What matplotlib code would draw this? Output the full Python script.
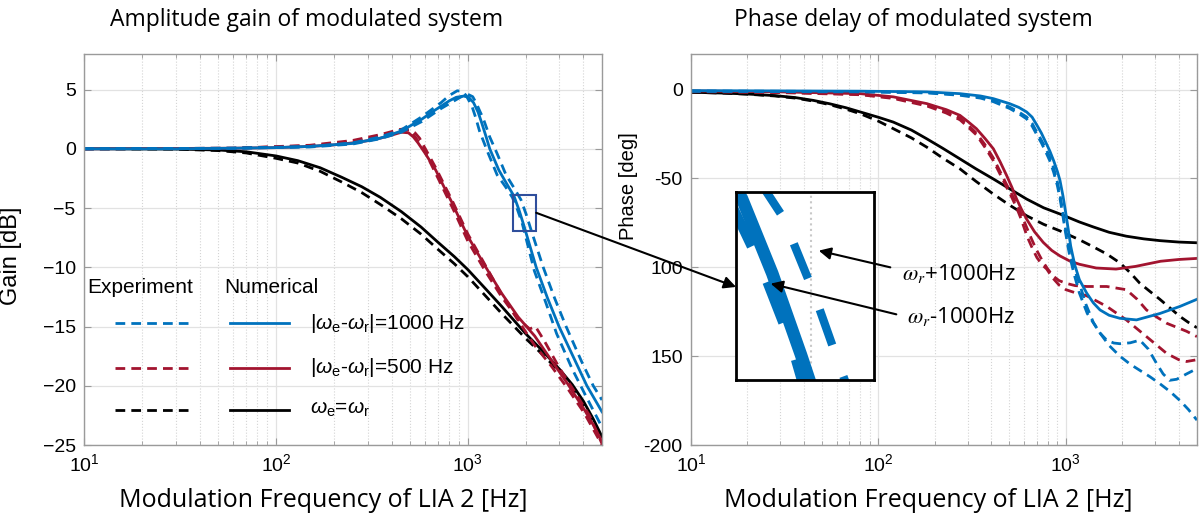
import numpy as np
import matplotlib
matplotlib.use("Agg")
import matplotlib.pyplot as plt
from matplotlib.patches import Rectangle, ConnectionPatch, FancyArrowPatch
from matplotlib.ticker import FixedLocator, NullLocator

plt.rcParams['font.family'] = ['Liberation Sans', 'DejaVu Sans']
plt.rcParams['mathtext.fontset'] = 'custom'
plt.rcParams['mathtext.rm'] = 'Liberation Sans'
plt.rcParams['mathtext.it'] = 'Liberation Sans:italic'
NARROW = ['Open Sans', 'DejaVu Sans']

BLUE = '#0072BD'
RED = '#A2142F'
BLACK = '#000000'

# ---- gain data (Hz, dB) ----
gain_f_num1000 = [10, 30, 60, 100, 150, 250, 350, 450, 575, 650, 725, 800, 870, 950, 1010, 1070, 1130, 1180, 1240, 1300,
                  1450, 1600, 1740, 1850, 1960, 2270, 2600, 2985, 3600, 4170, 5000]
gain_num1000 = [0, 0, 0.05, 0.1, 0.2, 0.45, 0.9, 1.5, 2.5, 3.1, 3.6, 4.05, 4.35, 4.45, 4.35, 3.9, 3.1, 2.2, 1.1, 0.0,
                -1.8, -3.0, -4.0, -5.2, -6.5, -10.0, -12.6, -15.0, -17.8, -20.0, -22.2]
gain_f_exp1000a = [10, 60, 150, 250, 350, 450, 575, 725, 800, 880, 930, 980, 1050, 1100, 1150, 1270, 1420, 1570,
                   1705, 1810, 1920, 2220, 2550, 2900, 3500, 4100, 5000]
gain_exp1000a = [0, 0.05, 0.2, 0.5, 1.0, 1.6, 2.7, 3.9, 4.5, 4.9, 4.85, 4.5, 3.6, 2.6, 1.5, -0.3, -2.2, -3.2,
                 -4.1, -5.1, -6.3, -10.3, -13.0, -15.6, -18.6, -20.8, -23.5]
gain_f_exp1000b = [10, 60, 150, 250, 350, 450, 575, 725, 880, 950, 1000, 1060, 1110, 1160, 1200, 1300, 1420, 1580,
                   1740, 1890, 2010, 2130, 2470, 2830, 3250, 3900, 4500, 5000]
gain_exp1000b = [0, 0.05, 0.15, 0.4, 0.85, 1.4, 2.3, 3.4, 4.2, 4.5, 4.6, 4.4, 3.8, 3.1, 2.6, 1.0, -0.4, -2.2,
                 -3.3, -4.3, -5.5, -6.8, -10.0, -12.6, -15.0, -17.9, -20.0, -21.2]

gain_f_num500 = [10, 60, 100, 150, 200, 250, 300, 350, 400, 450, 490, 520, 550, 600, 680, 750, 830, 910, 1000,
                 1230, 1500, 1830, 2230, 2710, 3300, 4040, 4500, 5000]
gain_num500 = [0, 0.05, 0.1, 0.2, 0.33, 0.5, 0.68, 0.9, 1.15, 1.4, 1.35, 1.0, 0.5, -0.4, -1.8, -3.2, -4.6, -6.0, -7.4,
               -9.9, -12.2, -14.2, -15.8, -17.8, -19.8, -22.0, -23.3, -24.7]
gain_f_exp500a = [10, 60, 150, 250, 350, 400, 430, 470, 500, 520, 560, 600, 700, 850, 1000, 1230, 1500, 1830,
                  2100, 2250, 2500, 3000, 3600, 4300, 5000]
gain_exp500a = [0, 0.05, 0.3, 0.7, 1.2, 1.45, 1.6, 1.7, 1.55, 1.2, 0.5, -0.3, -2.5, -5.3, -7.8, -10.3, -12.5, -14.4,
                -15.2, -15.0, -16.2, -18.5, -20.5, -22.5, -24.9]
gain_f_exp500b = [10, 60, 150, 250, 350, 450, 500, 530, 560, 610, 680, 830, 1000, 1230, 1500, 1830, 2230, 2710,
                  3300, 4040, 5000]
gain_exp500b = [0, 0.05, 0.25, 0.6, 1.05, 1.5, 1.6, 1.35, 0.9, -0.2, -1.6, -4.4, -7.2, -9.8, -12.3, -14.5, -16.6, -18.3,
                -20.2, -22.3, -25.0]

gain_f_num0 = [10, 30, 50, 70, 100, 130, 170, 220, 280, 350, 450, 570, 700, 850, 1000, 1250, 1500, 2000, 2500,
               3000, 3500, 4000, 4500, 5000]
gain_num0 = [0, -0.02, -0.1, -0.25, -0.6, -1.0, -1.6, -2.4, -3.2, -4.1, -5.3, -6.6, -7.9, -9.1, -10.2, -11.9, -13.3,
             -15.6, -17.2, -18.6, -19.9, -21.3, -22.8, -24.3]
gain_f_exp0 = [10, 30, 50, 70, 100, 130, 170, 220, 280, 350, 450, 570, 700, 850, 1000, 1250, 1500, 2000, 2500,
               3000, 3500, 4000, 4500, 5000]
gain_exp0 = [0, -0.03, -0.15, -0.35, -0.8, -1.2, -1.9, -2.8, -3.7, -4.7, -5.9, -7.2, -8.5, -9.7, -10.8, -12.5, -13.9,
             -16.0, -17.5, -18.8, -20.1, -21.6, -23.1, -24.6]

# ---- phase data (Hz, deg) ----
ph_f_num1000 = [10, 80, 181, 272, 350, 410, 500, 560, 617, 660, 700, 740, 780, 820, 860, 900, 929, 965, 1000, 1030,
                1060, 1090, 1117, 1180, 1290, 1400, 1520, 1700, 1940, 2380, 3170, 4060, 5000]
ph_num1000 = [-0.6, -0.9, -1.3, -2.3, -3.6, -5.1, -7.9, -10, -12.6, -15.5, -20, -24.5, -29.6, -34.5, -40, -46, -51,
              -60, -70, -79, -88, -94, -99, -107, -114.5, -120, -124, -127, -128.7, -129.6, -126, -122, -118]
ph_f_exp1000a = [10, 80, 181, 272, 350, 410, 500, 560, 617, 660, 700, 740, 780, 820, 860, 900, 929, 960, 990, 1020,
                 1050, 1100, 1180, 1280, 1400, 1520, 1650, 1800, 1940, 2200, 2480, 2750, 3040, 3300, 3570, 3900,
                 4400, 5000]
ph_exp1000a = [-0.8, -1.1, -1.6, -2.8, -4.3, -6.2, -9.8, -12.6, -15.4, -19, -24, -28.5, -33, -38, -44, -52, -59,
               -68, -77, -85, -92, -100, -109, -121, -131, -137, -141, -142.6, -143, -142.5, -141, -146, -154, -160,
               -163.6, -163, -160, -157]
ph_f_exp1000b = [10, 80, 181, 272, 350, 410, 500, 560, 617, 660, 700, 740, 780, 820, 860, 900, 929, 960, 990, 1020,
                 1050, 1100, 1180, 1300, 1520, 1700, 1940, 2200, 2480, 2800, 3170, 3600, 4060, 4500, 5000]
ph_exp1000b = [-1, -1.3, -1.9, -3.2, -4.8, -6.8, -10.6, -13.5, -16.5, -20.5, -25.5, -30, -35, -40, -46.5, -54, -61,
               -70, -79, -87, -94, -103, -114.5, -126, -137, -144, -150, -154.5, -158, -161.5, -165.5, -170, -175,
               -180, -186]

ph_f_num500 = [10, 30, 80, 120, 181, 230, 272, 300, 333, 370, 410, 445, 483, 515, 546, 580, 617, 680, 757, 840,
               929, 1050, 1180, 1450, 1850, 2350, 3200, 4000, 5000]
ph_num500 = [-0.8, -1.3, -2.3, -4.1, -7.9, -11.3, -14.5, -18, -22, -27.5, -33.3, -40.5, -48.4, -55, -61.6, -67.5,
             -72.9, -80, -86, -90.5, -93.6, -96.5, -98.3, -100.4, -101, -99.5, -96.6, -95.6, -95]
ph_f_exp500a = [10, 30, 80, 120, 181, 230, 272, 300, 333, 370, 410, 445, 483, 515, 546, 580, 617, 655, 695, 750,
                800, 856, 920, 1000, 1120, 1290, 1650, 2100, 2400, 2690, 3050, 3450, 4400, 5000]
ph_exp500a = [-1, -1.5, -2.6, -4.6, -8.6, -12.4, -16, -19.8, -24.5, -31, -38.5, -46, -53.5, -59, -64.5, -70.5,
              -77.5, -84, -90, -96.5, -101, -105, -107.5, -109, -110.3, -110.8, -110.8, -112.6, -118, -124, -128,
              -131.5, -136, -139]
ph_f_exp500b = [10, 30, 80, 120, 181, 230, 272, 300, 333, 370, 410, 445, 483, 515, 546, 580, 620, 660, 700, 745,
                790, 850, 920, 1000, 1120, 1290, 1650, 2100, 2690, 3450, 4000, 4400, 5000]
ph_exp500b = [-1.2, -1.7, -2.9, -5, -9.2, -13.2, -17, -21, -25.5, -32.5, -40, -47.5, -55, -60.8, -66.5, -73.5,
              -82.5, -89, -94.5, -98.5, -101, -106, -110, -112.6, -114.3, -116, -122, -129.6, -139, -148.5, -152,
              -153, -152]

ph_f_num0 = [10, 15, 20, 28, 36, 45, 55, 67, 80, 100, 120, 150, 181, 220, 272, 330, 410, 500, 617, 760, 929,
             1180, 1400, 1700, 2100, 2600, 3170, 4000, 5000]
ph_num0 = [-1.5, -2.0, -2.5, -3.4, -4.5, -6.1, -8, -10.2, -12.6, -15.6, -18.3, -22.8, -27.7, -33, -39, -44.5,
           -50.3, -55.8, -61.6, -66.5, -70, -74.5, -77.3, -80.3, -82.5, -84, -85, -85.8, -86.2]
ph_f_exp0 = [10, 15, 20, 28, 36, 45, 55, 67, 80, 100, 120, 150, 181, 220, 272, 330, 410, 500, 617, 760, 929,
             1180, 1400, 1650, 1940, 2200, 2480, 2800, 3170, 3600, 4060, 4500, 5000]
ph_exp0 = [-1.5, -2.0, -2.6, -3.6, -4.8, -6.5, -8.5, -11, -13.6, -17.8, -22, -27.2, -32.4, -38.5, -44.6, -51.5,
           -58.8, -65, -71, -75.8, -79.5, -84.5, -88.5, -92.5, -97.5, -103, -109, -113.5, -118, -123, -127.7,
           -131, -134]

gain_ticks = [-25, -20, -15, -10, -5, 0, 5]
phase_ticks = [-200, -150, -100, -50, 0]
phase_ticklabels = ['-200', '150', '100', '-50', '0']
zoom_f = (1720, 2270)
zoom_g = (-6.9, -3.9)

DASH = (0, (3.5, 2.2))


def style_axes(ax):
    ax.set_xscale('log')
    ax.set_xlim(10, 5000)
    ax.grid(True, which='major', color='#e2e2e2', lw=0.9, ls='-')
    ax.grid(True, which='minor', axis='x', color='#d4d4d4', lw=0.8, ls=':')
    ax.set_axisbelow(True)
    for s in ax.spines.values():
        s.set_color('#9a9a9a')
        s.set_linewidth(1.0)
    ax.tick_params(which='both', direction='in', top=True, right=True,
                   labelsize=14, color='#9a9a9a', pad=6)
    ax.tick_params(which='major', length=5)
    ax.tick_params(which='minor', length=3)


fig = plt.figure(figsize=(11.99, 5.23), dpi=100)
ax1 = fig.add_axes([0.0701, 0.1491, 0.432, 0.7476])
ax2 = fig.add_axes([0.5763, 0.1491, 0.422, 0.7476])

# ---- amplitude ----
style_axes(ax1)
ax1.plot(gain_f_exp0, gain_exp0, color=BLACK, lw=2, ls=DASH)
ax1.plot(gain_f_num0, gain_num0, color=BLACK, lw=2)
ax1.plot(gain_f_exp500a, gain_exp500a, color=RED, lw=2, ls=DASH)
ax1.plot(gain_f_exp500b, gain_exp500b, color=RED, lw=2, ls=DASH)
ax1.plot(gain_f_num500, gain_num500, color=RED, lw=2)
ax1.plot(gain_f_exp1000a, gain_exp1000a, color=BLUE, lw=2, ls=DASH)
ax1.plot(gain_f_exp1000b, gain_exp1000b, color=BLUE, lw=2, ls=DASH)
ax1.plot(gain_f_num1000, gain_num1000, color=BLUE, lw=2)
ax1.set_ylim(-25, 8)
ax1.set_yticks(gain_ticks)
ax1.set_ylabel('Gain [dB]', fontsize=17)
ax1.yaxis.set_label_coords(-0.12, 0.483)
ax1.set_xlabel('Modulation Frequency of LIA 2 [Hz]', fontsize=18, family=NARROW)
ax1.xaxis.set_label_coords(0.461, -0.141)
ax1.xaxis.label.set_va('center')

ax1.add_patch(Rectangle((zoom_f[0], zoom_g[0]), zoom_f[1] - zoom_f[0], zoom_g[1] - zoom_g[0],
                        fill=False, edgecolor='#2f4e9c', lw=1.5, zorder=5))

# hand-made legend
ax1.text(0.006, 0.404, 'Experiment', transform=ax1.transAxes, fontsize=15, va='center')
ax1.text(0.270, 0.404, 'Numerical', transform=ax1.transAxes, fontsize=15, va='center')
leg_rows = [(BLUE, r'|$\omega_\mathrm{e}$-$\omega_\mathrm{r}$|=1000 Hz', 0.312),
            (RED, r'|$\omega_\mathrm{e}$-$\omega_\mathrm{r}$|=500 Hz', 0.197),
            (BLACK, r'$\omega_\mathrm{e}$=$\omega_\mathrm{r}$', 0.090)]
for col, lab, yy in leg_rows:
    ax1.plot([0.060, 0.201], [yy, yy], transform=ax1.transAxes, color=col, lw=2, ls=DASH)
    ax1.plot([0.282, 0.396], [yy, yy], transform=ax1.transAxes, color=col, lw=2)
    ax1.text(0.436, yy, lab, transform=ax1.transAxes, fontsize=15, va='center')

# ---- phase ----
style_axes(ax2)
ax2.plot(ph_f_exp0, ph_exp0, color=BLACK, lw=2, ls=DASH)
ax2.plot(ph_f_num0, ph_num0, color=BLACK, lw=2)
ax2.plot(ph_f_exp500a, ph_exp500a, color=RED, lw=2, ls=DASH)
ax2.plot(ph_f_exp500b, ph_exp500b, color=RED, lw=2, ls=DASH)
ax2.plot(ph_f_num500, ph_num500, color=RED, lw=2)
ax2.plot(ph_f_exp1000a, ph_exp1000a, color=BLUE, lw=2, ls=DASH)
ax2.plot(ph_f_exp1000b, ph_exp1000b, color=BLUE, lw=2, ls=DASH)
ax2.plot(ph_f_num1000, ph_num1000, color=BLUE, lw=2)
ax2.set_ylim(-200, 20)
ax2.set_yticks(phase_ticks)
ax2.set_yticklabels(phase_ticklabels)
ax2.set_ylabel('Phase [deg]', fontsize=14.5)
ax2.yaxis.set_label_coords(-0.105, 0.662)
ax2.set_xlabel('Modulation Frequency of LIA 2 [Hz]', fontsize=18, family=NARROW)
ax2.xaxis.set_label_coords(0.468, -0.141)
ax2.xaxis.label.set_va('center')

fig.text(0.256, 0.962, 'Amplitude gain of modulated system', fontsize=16.5,
         family=NARROW, ha='center', va='center')
fig.text(0.7615, 0.962, 'Phase delay of modulated system', fontsize=16.5,
         family=NARROW, ha='center', va='center')

# ---- zoomed inset of the gain plot ----
axi = fig.add_axes([0.6139, 0.2734, 0.1151, 0.3595])
axi.set_xscale('log')
axi.set_xlim(*zoom_f)
axi.set_ylim(*zoom_g)
axi.xaxis.set_major_locator(NullLocator())
axi.xaxis.set_minor_locator(FixedLocator([2000]))
axi.plot(gain_f_exp1000a, gain_exp1000a, color=BLUE, lw=7, ls=(0, (4.5, 4)))
axi.plot(gain_f_exp1000b, gain_exp1000b, color=BLUE, lw=6, ls=(0, (4.5, 4)))
axi.plot(gain_f_num1000, gain_num1000, color=BLUE, lw=9)
axi.grid(True, which='minor', axis='x', color='#c8c8c8', lw=1.5, ls=':')
axi.set_axisbelow(True)
axi.tick_params(which='both', length=0, labelbottom=False, labelleft=False)
for s in axi.spines.values():
    s.set_color('black')
    s.set_linewidth(2)

con = ConnectionPatch(xyA=(zoom_f[1], -5.4), coordsA=ax1.transData,
                      xyB=(0.0, 0.495), coordsB=axi.transAxes,
                      arrowstyle='-|>', mutation_scale=18, color='black', lw=1.5, zorder=10)
fig.add_artist(con)

for head, tail in [((0.6806, 0.5220), (0.7448, 0.4876)), ((0.6405, 0.4589), (0.7498, 0.3977))]:
    fig.add_artist(FancyArrowPatch(tail, head, transform=fig.transFigure, arrowstyle='-|>',
                                   mutation_scale=18, color='black', lw=1.5, zorder=10))
fig.text(0.7523, 0.478, r'$\omega_r$+1000Hz', fontsize=16, family=NARROW,
         math_fontfamily='stix', va='center')
fig.text(0.7565, 0.394, r'$\omega_r$-1000Hz', fontsize=16, family=NARROW,
         math_fontfamily='stix', va='center')

fig.savefig('out.png', dpi=100)
